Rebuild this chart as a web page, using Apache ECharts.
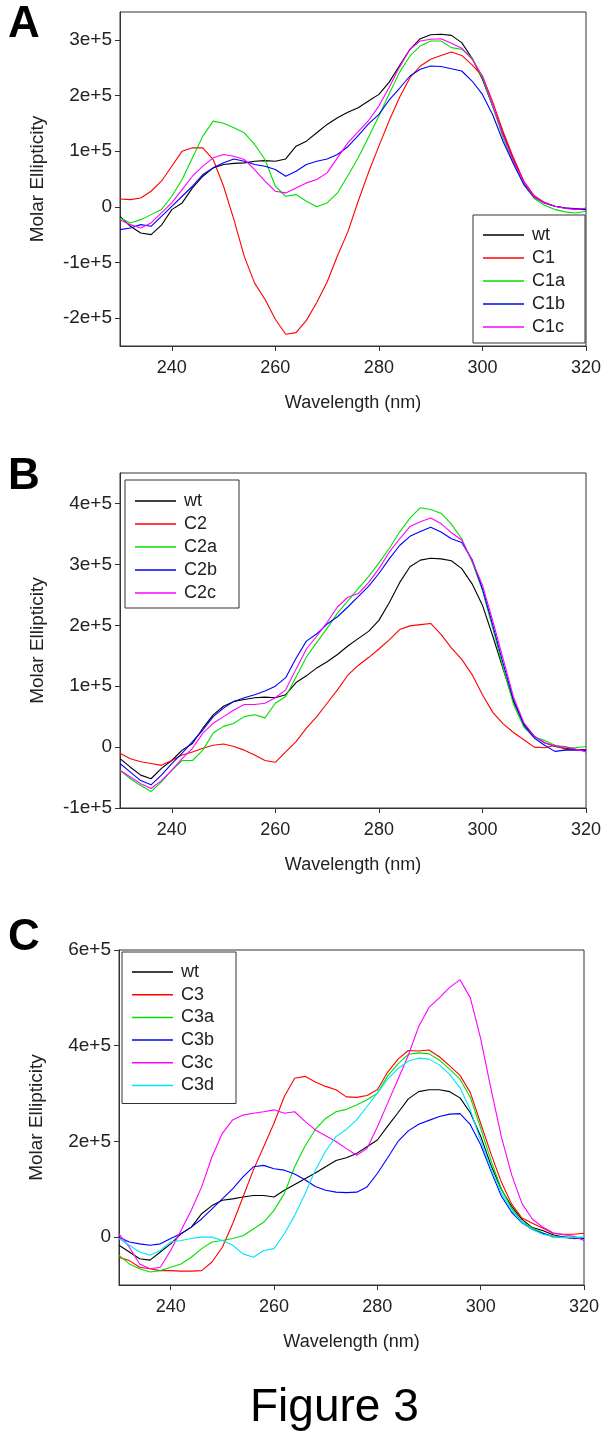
<!DOCTYPE html>
<html><head><meta charset="utf-8">
<script src="https://cdn.jsdelivr.net/npm/echarts@6/dist/echarts.min.js"></script>
<style>html,body{margin:0;padding:0;background:#fff}#c{width:607px;height:1450px}</style>
</head><body><div id="c"></div>
<script>
// Wavelength grid (nm)
const wavelengths = [230,232,234,236,238,240,242,244,246,248,250,252,254,256,258,260,262,264,266,268,270,272,274,276,278,280,282,284,286,288,290,292,294,296,298,300,302,304,306,308,310,312,314,316,318,320];
const xTicks = [240,260,280,300,320];
const UNIT = 1e5; // values below are in units of 1e+5

// Panel A
const namesA = ['wt','C1','C1a','C1b','C1c'];
const wtA  = [-0.17,-0.35,-0.47,-0.50,-0.33,-0.05,0.07,0.34,0.55,0.70,0.76,0.78,0.79,0.82,0.83,0.82,0.86,1.09,1.18,1.33,1.48,1.60,1.70,1.78,1.90,2.02,2.24,2.54,2.83,3.02,3.09,3.10,3.08,2.95,2.67,2.29,1.80,1.31,0.84,0.44,0.19,0.07,0.01,-0.02,-0.03,-0.04];
const C1   = [0.14,0.13,0.16,0.28,0.46,0.73,1.00,1.06,1.06,0.85,0.37,-0.23,-0.89,-1.37,-1.66,-2.02,-2.29,-2.26,-2.04,-1.72,-1.35,-0.88,-0.45,0.10,0.62,1.09,1.55,1.97,2.32,2.53,2.65,2.72,2.78,2.72,2.55,2.35,1.88,1.35,0.88,0.46,0.20,0.08,0.01,-0.02,-0.04,-0.05];
const C1a  = [-0.20,-0.29,-0.23,-0.14,-0.05,0.19,0.49,0.88,1.27,1.54,1.50,1.42,1.33,1.12,0.85,0.37,0.19,0.22,0.10,0.00,0.07,0.25,0.56,0.88,1.25,1.63,2.03,2.42,2.71,2.89,2.98,2.98,2.86,2.83,2.68,2.32,1.80,1.23,0.78,0.40,0.15,0.03,-0.05,-0.09,-0.11,-0.08];
const C1b  = [-0.41,-0.38,-0.32,-0.35,-0.17,0.01,0.19,0.37,0.58,0.70,0.79,0.86,0.82,0.76,0.73,0.67,0.55,0.64,0.76,0.82,0.86,0.94,1.08,1.28,1.49,1.66,1.92,2.13,2.35,2.47,2.53,2.52,2.48,2.44,2.26,2.02,1.65,1.17,0.77,0.40,0.17,0.07,0.01,-0.02,-0.04,-0.05];
const C1c  = [-0.23,-0.32,-0.38,-0.29,-0.11,0.07,0.31,0.55,0.73,0.88,0.94,0.91,0.85,0.67,0.46,0.28,0.25,0.34,0.43,0.49,0.61,0.88,1.15,1.35,1.55,1.81,2.15,2.51,2.83,2.98,3.01,3.02,2.94,2.85,2.65,2.35,1.83,1.28,0.82,0.44,0.18,0.07,0.01,-0.03,-0.05,-0.02];

// Panel B
const namesB = ['wt','C2','C2a','C2b','C2c'];
const wtB  = [-0.19,-0.33,-0.46,-0.52,-0.35,-0.22,-0.05,0.06,0.31,0.53,0.67,0.75,0.78,0.81,0.82,0.81,0.86,1.06,1.17,1.30,1.40,1.52,1.66,1.78,1.90,2.08,2.37,2.70,2.96,3.07,3.10,3.09,3.06,2.93,2.68,2.33,1.82,1.28,0.75,0.38,0.18,0.07,0.01,-0.02,-0.04,-0.05];
const C2   = [-0.10,-0.19,-0.24,-0.27,-0.30,-0.22,-0.13,-0.08,-0.02,0.03,0.05,0.01,-0.05,-0.13,-0.22,-0.25,-0.08,0.09,0.31,0.50,0.72,0.94,1.18,1.34,1.47,1.61,1.76,1.93,1.99,2.01,2.03,1.85,1.63,1.44,1.19,0.86,0.57,0.38,0.24,0.12,0.00,-0.01,0.03,-0.04,-0.04,-0.05];
const C2a  = [-0.38,-0.52,-0.63,-0.73,-0.57,-0.38,-0.22,-0.22,-0.05,0.23,0.34,0.39,0.50,0.53,0.48,0.72,0.83,1.15,1.48,1.72,1.95,2.20,2.40,2.60,2.80,3.02,3.26,3.53,3.76,3.93,3.90,3.84,3.66,3.42,3.04,2.57,1.95,1.30,0.70,0.33,0.16,0.11,0.03,-0.01,-0.01,0.01];
const C2b  = [-0.27,-0.41,-0.55,-0.62,-0.46,-0.27,-0.10,0.09,0.28,0.50,0.64,0.75,0.81,0.86,0.92,1.00,1.14,1.46,1.74,1.86,2.02,2.14,2.30,2.47,2.64,2.85,3.09,3.31,3.46,3.54,3.61,3.53,3.42,3.36,3.08,2.60,2.00,1.37,0.78,0.36,0.15,0.03,-0.07,-0.05,-0.05,-0.05];
const C2c  = [-0.38,-0.49,-0.60,-0.68,-0.55,-0.38,-0.19,-0.02,0.23,0.39,0.50,0.61,0.70,0.70,0.72,0.81,0.94,1.28,1.61,1.82,2.05,2.30,2.46,2.52,2.70,2.93,3.20,3.42,3.62,3.70,3.76,3.67,3.52,3.40,3.06,2.66,2.07,1.45,0.82,0.40,0.18,0.07,0.02,0.01,-0.03,-0.08];

// Panel C
const namesC = ['wt','C3','C3a','C3b','C3c','C3d'];
const wtC  = [-0.17,-0.31,-0.45,-0.48,-0.31,-0.14,0.07,0.21,0.49,0.66,0.77,0.80,0.84,0.87,0.87,0.84,0.98,1.10,1.22,1.34,1.47,1.60,1.66,1.75,1.89,2.03,2.32,2.60,2.89,3.04,3.08,3.08,3.04,2.91,2.60,2.11,1.50,1.00,0.64,0.37,0.20,0.14,0.05,0.00,-0.03,-0.01];
const C3   = [-0.42,-0.49,-0.63,-0.66,-0.70,-0.70,-0.71,-0.71,-0.70,-0.52,-0.21,0.28,0.84,1.40,1.89,2.38,2.94,3.32,3.36,3.24,3.15,3.08,2.93,2.92,2.96,3.08,3.45,3.72,3.90,3.89,3.91,3.77,3.58,3.38,3.02,2.38,1.74,1.15,0.69,0.40,0.29,0.19,0.08,0.06,0.06,0.08];
const C3a  = [-0.38,-0.56,-0.66,-0.73,-0.70,-0.63,-0.56,-0.42,-0.24,-0.10,-0.07,-0.03,0.03,0.17,0.31,0.56,0.91,1.47,1.90,2.25,2.48,2.62,2.67,2.76,2.87,3.01,3.37,3.62,3.82,3.85,3.83,3.70,3.51,3.30,2.92,2.28,1.60,1.01,0.60,0.32,0.19,0.09,0.00,0.00,0.00,-0.01];
const C3b  = [0.00,-0.10,-0.14,-0.17,-0.14,-0.03,0.07,0.21,0.38,0.59,0.80,1.01,1.26,1.47,1.50,1.43,1.40,1.32,1.20,1.06,0.98,0.94,0.93,0.94,1.05,1.33,1.66,2.00,2.22,2.36,2.44,2.52,2.57,2.58,2.35,1.93,1.38,0.86,0.52,0.30,0.16,0.08,0.02,0.00,-0.02,-0.03];
const C3c  = [0.07,-0.21,-0.56,-0.66,-0.63,-0.28,0.14,0.56,1.05,1.68,2.17,2.45,2.55,2.59,2.62,2.66,2.59,2.62,2.42,2.24,2.12,2.00,1.85,1.71,1.85,2.30,2.80,3.30,3.80,4.40,4.80,5.00,5.22,5.38,5.00,4.15,3.10,2.10,1.30,0.70,0.38,0.21,0.09,0.05,0.02,-0.07];
const C3d  = [-0.03,-0.17,-0.31,-0.38,-0.28,-0.10,-0.07,-0.03,0.00,0.00,-0.07,-0.17,-0.35,-0.42,-0.28,-0.24,0.07,0.45,0.90,1.40,1.80,2.10,2.25,2.45,2.73,3.01,3.30,3.52,3.68,3.74,3.72,3.60,3.40,3.12,2.66,2.02,1.43,0.92,0.56,0.31,0.16,0.06,0.02,-0.01,-0.01,0.00];

const yTicksA = [-2,-1,0,1,2,3];
const yTicksB = [-1,0,1,2,3,4];
const yTicksC = [0,2,4,6];

const colors = ['#000000','#ff0000','#00e000','#0000ff','#ff00ff','#00e5ff'];
const FONT = 'Liberation Sans, Arial, sans-serif';
const AX = '#333';

const panels = [
  {names: namesA, values: [wtA,C1,C1a,C1b,C1c], yMin:-2.5, yMax:3.5, yTicks: yTicksA,
   grid:{left:120, top:12, width:466, height:334},
   legend:{left:473, top:215, padding:[10,20,6,10], gap:3}},
  {names: namesB, values: [wtB,C2,C2a,C2b,C2c], yMin:-1, yMax:4.5, yTicks: yTicksB,
   grid:{left:120, top:473, width:466, height:335},
   legend:{left:125, top:480, padding:[11,22,5,10], gap:3}},
  {names: namesC, values: [wtC,C3,C3a,C3b,C3c,C3d], yMin:-1, yMax:6, yTicks: yTicksC,
   grid:{left:119, top:950, width:465, height:335},
   legend:{left:122, top:952, padding:[10,22,8,10], gap:2.7}}
];

const option = {
  animation:false,
  backgroundColor:'#fff',
  grid:[], xAxis:[], yAxis:[], series:[], legend:[],
  title:[
    {text:'A', left:8, top:3, padding:0, textStyle:{fontSize:44, fontWeight:'bold', fontFamily:FONT, color:'#000'}},
    {text:'B', left:8, top:455, padding:0, textStyle:{fontSize:44, fontWeight:'bold', fontFamily:FONT, color:'#000'}},
    {text:'C', left:8, top:916, padding:0, textStyle:{fontSize:44, fontWeight:'bold', fontFamily:FONT, color:'#000'}},
    {text:'Figure 3', left:250, top:1385, padding:0, textStyle:{fontSize:46, fontWeight:'normal', fontFamily:FONT, color:'#000'}}
  ]
};

panels.forEach((p, i) => {
  option.grid.push(Object.assign({show:true, borderColor:AX, borderWidth:1, backgroundColor:'transparent'}, p.grid));
  option.xAxis.push({
    type:'value', gridIndex:i, min:230, max:320,
    name:'Wavelength (nm)', nameLocation:'middle', nameGap:48,
    nameTextStyle:{fontSize:18, fontFamily:FONT, color:'#222'},
    axisLine:{show:true, onZero:false, lineStyle:{color:AX, width:1}},
    axisTick:{show:true, inside:false, length:5, lineStyle:{color:AX}, customValues:xTicks},
    axisLabel:{fontSize:18, fontFamily:FONT, color:'#222', margin:13, customValues:xTicks},
    splitLine:{show:false}
  });
  option.yAxis.push({
    type:'value', gridIndex:i, min:p.yMin*UNIT, max:p.yMax*UNIT,
    name:'Molar Ellipticity', nameLocation:'middle', nameGap:73,
    nameTextStyle:{fontSize:19, fontFamily:FONT, color:'#222'},
    axisLine:{show:true, onZero:false, lineStyle:{color:AX, width:1}},
    axisTick:{show:true, inside:false, length:5, lineStyle:{color:AX}, customValues:p.yTicks.map(v=>v*UNIT)},
    axisLabel:{fontSize:19, fontFamily:FONT, color:'#222', margin:8, customValues:p.yTicks.map(v=>v*UNIT),
      formatter:v => v === 0 ? '0' : (Math.round(v/UNIT)) + 'e+5'},
    splitLine:{show:false}
  });
  p.names.forEach((n, k) => {
    option.series.push({
      type:'line', name:n, xAxisIndex:i, yAxisIndex:i,
      data: wavelengths.map((w, j) => [w, p.values[k][j]*UNIT]),
      showSymbol:false, symbol:'none', smooth:false,
      lineStyle:{color:colors[k], width:1.1}, itemStyle:{color:colors[k]},
      z: 2 + k
    });
  });
  option.legend.push({
    data:p.names.map((n,k)=>({name:n, itemStyle:{color:colors[k]}})),
    orient:'vertical', left:p.legend.left, top:p.legend.top,
    padding:p.legend.padding, itemGap:p.legend.gap,
    itemWidth:41, itemHeight:1.5, icon:'rect',
    borderColor:AX, borderWidth:1, backgroundColor:'#fff',
    selectedMode:false,
    textStyle:{fontSize:18, fontFamily:FONT, color:'#222', lineHeight:20, padding:[0,0,0,3]}
  });
});

const chart = echarts.init(document.getElementById('c'), null, {renderer:'canvas', width:607, height:1450});
chart.setOption(option);
</script>
</body></html>
